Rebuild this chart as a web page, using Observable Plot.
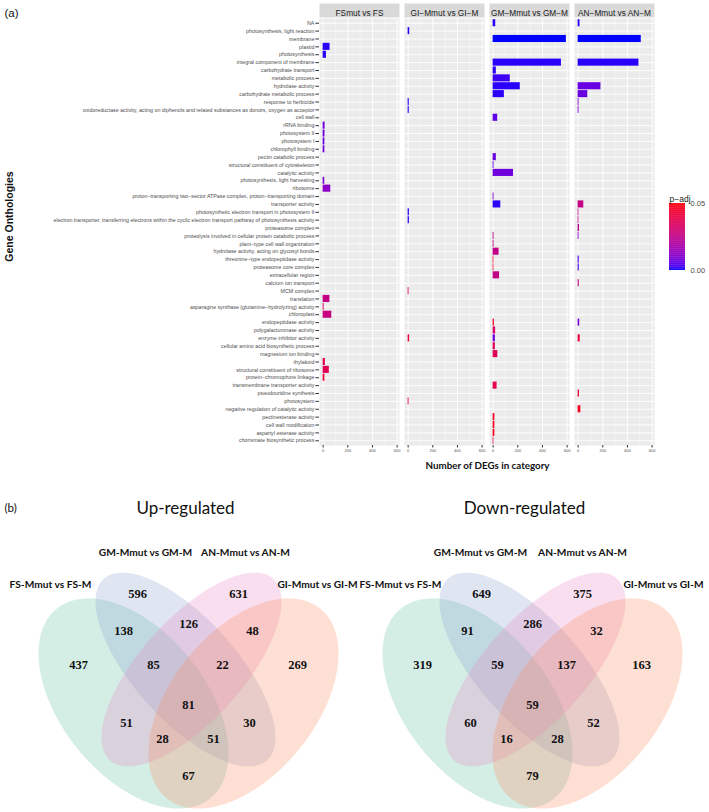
<!DOCTYPE html>
<html><head><meta charset="utf-8">
<script src="https://cdn.jsdelivr.net/npm/d3@7"></script>
<script src="https://cdn.jsdelivr.net/npm/@observablehq/plot@0.6"></script>
<style>
html,body{margin:0;padding:0;background:#fff;}
#root{position:relative;width:709px;height:812px;overflow:hidden;background:#fff;}
</style></head><body><div id="root"></div>
<script>
// ---------------- DATA ----------------
const terms = [
  "NA","photosynthesis, light reaction","membrane","plastid","photosynthesis",
  "integral component of membrane","carbohydrate transport","metabolic process","hydrolase activity",
  "carbohydrate metabolic process","response to herbicide",
  "oxidoreductase activity, acting on diphenols and related substances as donors, oxygen as acceptor",
  "cell wall","rRNA binding","photosystem II","photosystem I","chlorophyll binding","pectin catabolic process",
  "structural constituent of cytoskeleton","catalytic activity","photosynthesis, light harvesting","ribosome",
  "proton−transporting two−sector ATPase complex, proton−transporting domain","transporter activity",
  "photosynthetic electron transport in photosystem II",
  "electron transporter, transferring electrons within the cyclic electron transport pathway of photosynthesis activity",
  "proteasome complex","proteolysis involved in cellular protein catabolic process","plant−type cell wall organization",
  "hydrolase activity, acting on glycosyl bonds","threonine−type endopeptidase activity","proteasome core complex",
  "extracellular region","calcium ion transport","MCM complex","translation",
  "asparagine synthase (glutamine−hydrolyzing) activity","chloroplast","endopeptidase activity",
  "polygalacturonase activity","enzyme inhibitor activity","cellular amino acid biosynthetic process",
  "magnesium ion binding","thylakoid","structural constituent of ribosome","protein−chromophore linkage",
  "transmembrane transporter activity","pseudouridine synthesis","photosystem",
  "negative regulation of catalytic activity","pectinesterase activity","cell wall modification",
  "aspartyl esterase activity","chorismate biosynthetic process"
];
const facets = ["FSmut vs FS","GI−Mmut vs GI−M","GM−Mmut vs GM−M","AN−Mmut vs AN−M"];
const xTicks = [0, 200, 400, 600];
const xMinorTicks = [100, 300, 500];

// [term, number of DEGs, p-adj]
const fsRows = [
  ["plastid",56,0.001],["photosynthesis",27,0.001],["rRNA binding",16,0.007],["photosystem II",15,0.007],
  ["photosystem I",14,0.006],["chlorophyll binding",14,0.007],["photosynthesis, light harvesting",13,0.008],
  ["ribosome",62,0.012],["translation",55,0.026],["asparagine synthase (glutamine−hydrolyzing) activity",8,0.032],
  ["chloroplast",70,0.027],["thylakoid",18,0.038],["structural constituent of ribosome",50,0.036],
  ["protein−chromophore linkage",14,0.042]
];
const giRows = [
  ["photosynthesis, light reaction",13,0.001],["response to herbicide",9,0.001],
  ["oxidoreductase activity, acting on diphenols and related substances as donors, oxygen as acceptor",9,0.001],
  ["photosynthetic electron transport in photosystem II",10,0.001],
  ["electron transporter, transferring electrons within the cyclic electron transport pathway of photosynthesis activity",10,0.001],
  ["MCM complex",7,0.033],["enzyme inhibitor activity",12,0.042],["photosystem",7,0.040]
];
const gmRows = [
  ["NA",21,0.001],["membrane",594,0.000],["integral component of membrane",554,0.001],
  ["carbohydrate transport",26,0.001],["metabolic process",139,0.002],["hydrolase activity",220,0.001],
  ["carbohydrate metabolic process",91,0.001],["cell wall",37,0.005],["pectin catabolic process",26,0.006],
  ["structural constituent of cytoskeleton",7,0.005],["catalytic activity",165,0.007],
  ["proton−transporting two−sector ATPase complex, proton−transporting domain",7,0.009],
  ["transporter activity",62,0.001],["proteolysis involved in cellular protein catabolic process",7,0.024],
  ["plant−type cell wall organization",7,0.026],["hydrolase activity, acting on glycosyl bonds",48,0.025],
  ["threonine−type endopeptidase activity",6,0.045],["proteasome core complex",6,0.045],
  ["extracellular region",52,0.025],["endopeptidase activity",10,0.046],["polygalacturonase activity",20,0.033],
  ["enzyme inhibitor activity",18,0.006],["cellular amino acid biosynthetic process",18,0.037],
  ["magnesium ion binding",38,0.035],["transmembrane transporter activity",32,0.038],
  ["pectinesterase activity",14,0.047],["cell wall modification",14,0.047],["aspartyl esterase activity",14,0.047],
  ["chorismate biosynthetic process",6,0.040]
];
const anRows = [
  ["NA",15,0.001],["membrane",512,0.000],["integral component of membrane",493,0.001],
  ["hydrolase activity",185,0.006],["carbohydrate metabolic process",78,0.006],["response to herbicide",7,0.010],
  ["oxidoreductase activity, acting on diphenols and related substances as donors, oxygen as acceptor",7,0.010],
  ["transporter activity",46,0.026],["photosynthetic electron transport in photosystem II",6,0.026],
  ["electron transporter, transferring electrons within the cyclic electron transport pathway of photosynthesis activity",6,0.026],
  ["proteasome complex",11,0.024],["proteolysis involved in cellular protein catabolic process",7,0.012],
  ["threonine−type endopeptidase activity",9,0.003],["proteasome core complex",9,0.003],
  ["calcium ion transport",9,0.026],["endopeptidase activity",13,0.008],["enzyme inhibitor activity",17,0.042],
  ["pseudouridine synthesis",11,0.042],["negative regulation of catalytic activity",22,0.047]
];

// Venn data
const vennSets = ["FS-Mmut vs FS-M","GM-Mmut vs GM-M","AN-Mmut vs AN-M","GI-Mmut vs GI-M"];
const vennRegions = ["FS","GM","AN","GI","FS&GM","GM&AN","AN&GI","FS&GM&AN","GM&AN&GI","FS&GM&AN&GI","FS&AN","GM&GI","FS&AN&GI","FS&GM&GI","FS&GI"];
const upCounts   = [437,596,631,269,138,126,48,85,22,81,51,30,28,51,67];
const downCounts = [319,649,375,163,91,286,32,59,137,59,60,52,16,28,79];
const vennTitles = ["Up-regulated","Down-regulated"];
const panelTags = ["(a)","(b)"];

// ---------------- LAYOUT ----------------
const W = 709, H = 812;
const root = document.getElementById("root");
const sans = "'Liberation Sans', Arial, sans-serif";
const calib = "Lato, 'Open Sans', sans-serif";
const serif = "'Liberation Serif', 'Times New Roman', serif";
const colorScale = {type: "linear", domain: [0, 0.05], range: ["blue", "red"], interpolate: "lab"};

function place(el, left, top) {
  el.style.position = "absolute"; el.style.left = left + "px"; el.style.top = top + "px";
  el.style.background = "transparent"; el.style.maxWidth = "none";
  root.appendChild(el);
}

// ---------- (a) faceted bar chart ----------
const bars = [fsRows, giRows, gmRows, anRows].flatMap((rows, i) =>
  rows.map(([term, count, padj]) => ({facet: facets[i], term, count, padj})));

const barH = 476, mTop = 18, mBottom = 31;
const panelH = barH - mTop - mBottom;
const barChart = Plot.plot({
  width: W, height: barH,
  marginLeft: 318, marginRight: 53, marginTop: mTop, marginBottom: mBottom,
  style: {fontFamily: sans, background: "transparent"},
  fx: {domain: facets, paddingInner: 0.055, paddingOuter: 0, axis: null, label: null},
  x: {domain: [-29.5, 619.5], axis: null},
  y: {domain: terms, paddingInner: 0.1, paddingOuter: 0.15, axis: null},
  color: colorScale,
  marks: [
    Plot.frame({fill: "#ebebeb", stroke: "none"}),
    Plot.frame({fill: "#d9d9d9", stroke: "none", insetTop: -15, insetBottom: panelH + 1}),
    Plot.text(facets, {fx: d => d, text: d => d, frameAnchor: "top", dy: -8, fontSize: 8.3, fill: "#1a1a1a"}),
    Plot.gridX(xMinorTicks, {stroke: "white", strokeOpacity: 1, strokeWidth: 0.45}),
    Plot.gridX(xTicks, {stroke: "white", strokeOpacity: 1, strokeWidth: 0.9}),
    Plot.gridY(terms, {stroke: "white", strokeOpacity: 1, strokeWidth: 0.9}),
    Plot.barX(bars, {x: "count", y: "term", fx: "facet", fill: "padj"}),
    Plot.axisX(xTicks, {tickSize: 2.5, tickPadding: 1, fontSize: 4, stroke: "#333", fill: "#4d4d4d", label: null}),
    Plot.axisY(terms, {tickSize: 3.6, tickPadding: 1.5, fontSize: 5.3, stroke: "#333", fill: "#4d4d4d", label: null})
  ]
});
place(barChart, 0, 0);

// ---------- colour legend ----------
const legendSteps = d3.range(0, 0.05, 0.0005);
const legend = Plot.plot({
  width: 49, height: 95, marginTop: 18, marginBottom: 10, marginLeft: 9, marginRight: 24,
  style: {fontFamily: sans, background: "transparent"},
  x: {domain: [0, 1], axis: null},
  y: {domain: [0, 0.05], axis: null},
  color: colorScale,
  marks: [
    Plot.rect(legendSteps, {x1: 0, x2: 1, y1: d => d, y2: d => Math.min(0.05, d + 0.0007), fill: d => d}),
    Plot.axisY([0, 0.05], {anchor: "right", tickSize: 0, tickPadding: 5, tickFormat: ".2f", fontSize: 7.5, fill: "#4d4d4d", label: null}),
    Plot.text(["p−adj"], {frameAnchor: "top-left", dy: -8, textAnchor: "start", text: d => d, fontSize: 8.5, fill: "#1a1a1a"})
  ]
});
place(legend, 660, 185);

// ---------- (b) Venn diagrams + free text (pixel-unit scales) ----------
const vennAxes = [188, 532];                     // symmetry axis of each diagram
const ellipseLayout = [                          // FS, GM, AN, GI
  {dx: -55, cy: 703, a: 122, b: 72, deg: 51,  color: "#66C2A5"},
  {dx: -3,  cy: 669, a: 122, b: 51, deg: 48,  color: "#8DA0CB"},
  {dx: 3,   cy: 669, a: 122, b: 51, deg: -48, color: "#E78AC3"},
  {dx: 55,  cy: 703, a: 122, b: 72, deg: -51, color: "#FC8D62"}
];
const regionLayout = [[-110,664],[-51,593],[50,593],[109,664],[-65,630],[0,623],[64,630],[-35,664],[34,664],[0,704],[-62,722],[61,722],[-26,738],[25,738],[0,775]];
const setLabelLayout = [
  [[-138,584],[-43,552],[57,552],[129,584]],
  [[-132,584],[-52,552],[50,552],[131,584]]
];

function ellipsePoints(key, cx, cy, a, b, deg) {
  const t = deg * Math.PI / 180, pts = [];
  for (let i = 0; i < 200; i++) {
    const u = 2 * Math.PI * i / 200, ex = a * Math.cos(u), ey = b * Math.sin(u);
    pts.push({key, x: cx + ex * Math.cos(t) - ey * Math.sin(t), y: cy + ex * Math.sin(t) + ey * Math.cos(t)});
  }
  return pts;
}

const vennMarks = [];
[upCounts, downCounts].forEach((counts, v) => {
  const ax = vennAxes[v];
  vennSets.forEach((s, i) => {
    const e = ellipseLayout[i];
    vennMarks.push(Plot.line(ellipsePoints(v + s, ax + e.dx, e.cy, e.a, e.b, e.deg),
      {x: "x", y: "y", curve: "linear-closed", fill: e.color, fillOpacity: 0.28, stroke: "none"}));
  });
  const nums = vennRegions.map((r, i) => ({n: counts[i], x: ax + regionLayout[i][0], y: regionLayout[i][1]}));
  vennMarks.push(Plot.text(nums, {x: "x", y: "y", text: "n", fontFamily: serif, fontWeight: "bold", fontSize: 12.5, fill: "#111"}));
  const labs = vennSets.map((s, i) => ({s, x: ax + setLabelLayout[v][i][0], y: setLabelLayout[v][i][1]}));
  vennMarks.push(Plot.text(labs, {x: "x", y: "y", text: "s", fontFamily: calib, fontWeight: "bold", fontSize: 10.2, fill: "#111"}));
});

const titleLayout = [[185, 508], [524, 508]];
const tagLayout = [[4, 13], [4, 508]];
const overlay = Plot.plot({
  width: W, height: H, margin: 0,
  style: {background: "transparent", overflow: "visible"},
  x: {domain: [0, W], range: [0, W], axis: null},
  y: {domain: [0, H], range: [0, H], axis: null},
  marks: [
    ...vennMarks,
    Plot.text(vennTitles, {x: (d, i) => titleLayout[i][0], y: (d, i) => titleLayout[i][1], text: d => d, fontFamily: calib, fontSize: 17, fill: "#111"}),
    Plot.text([panelTags[0]], {x: tagLayout[0][0], y: tagLayout[0][1], text: d => d, textAnchor: "start", fontFamily: sans, fontSize: 11.5, fill: "#111"}),
    Plot.text([panelTags[1]], {x: tagLayout[1][0], y: tagLayout[1][1], text: d => d, textAnchor: "start", fontFamily: calib, fontSize: 11.5, fill: "#111"}),
    Plot.text(["Gene Onthologies"], {x: 9, y: 216, rotate: -90, text: d => d, fontFamily: sans, fontWeight: "bold", fontSize: 10.5, fill: "#111"}),
    Plot.text(["Number of DEGs in category"], {x: 487, y: 465, text: d => d, fontFamily: calib, fontWeight: "bold", fontSize: 9.8, fill: "#111"})
  ]
});
place(overlay, 0, 0);
</script></body></html>
